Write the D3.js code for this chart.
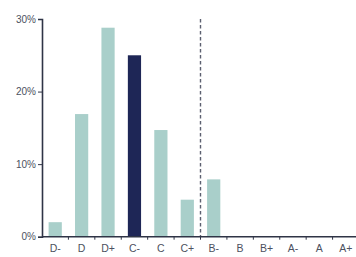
<!DOCTYPE html>
<html>
<head>
<meta charset="utf-8">
<script src="https://cdn.jsdelivr.net/npm/d3@7"></script>
<style>
  body { margin: 0; background: #fff; }
  .axis text { font-family: "Liberation Sans", Arial, sans-serif; font-size: 10.5px; fill: #4c5160; }
  .axis path, .axis line { stroke: #2f3446; }
</style>
</head>
<body>
<div id="chart"></div>
<script>
var grades = ["D-", "D", "D+", "C-", "C", "C+", "B-", "B", "B+", "A-", "A", "A+"];
var shares = [2.0, 16.9, 28.8, 25.0, 14.7, 5.1, 7.9, 0, 0, 0, 0, 0];
var highlight = "C-";
var yTicks = [0, 10, 20, 30];
var cutoffAfter = "C+";

var width = 356, height = 257;
var margin = { top: 19, right: 0, bottom: 20, left: 42 };

var svg = d3.select("#chart").append("svg")
    .attr("width", width)
    .attr("height", height);

var xScale = d3.scaleBand()
    .domain(grades)
    .range([margin.left, 359])
    .paddingInner(0.5)
    .paddingOuter(0.25);

var yScale = d3.scaleLinear()
    .domain([0, 30])
    .range([236.7, margin.top]);

var step = xScale.step();
function boundary(d) {
    return xScale(d) + xScale.bandwidth() + (step - xScale.bandwidth()) / 2;
}

// bars
svg.append("g").selectAll("rect")
    .data(grades)
    .enter().append("rect")
    .attr("x", function (d) { return xScale(d); })
    .attr("width", xScale.bandwidth())
    .attr("y", function (d, i) { return yScale(shares[i]); })
    .attr("height", function (d, i) { return yScale(0) - yScale(shares[i]); })
    .attr("fill", function (d) { return d === highlight ? "#1e2656" : "#a9cfca"; });

// dashed cutoff line between C+ and B-
var cutX = boundary(cutoffAfter);
svg.append("line")
    .attr("x1", cutX).attr("x2", cutX)
    .attr("y1", yScale(30)).attr("y2", yScale(0))
    .attr("stroke", "#5c6070")
    .attr("stroke-width", 1.4)
    .attr("stroke-dasharray", "3.5,2.5");

// x axis with ticks on band boundaries
var xAxisG = svg.append("g")
    .attr("class", "x axis")
    .attr("transform", "translate(0," + yScale(0) + ")");

xAxisG.append("line")
    .attr("x1", margin.left).attr("x2", width)
    .attr("stroke", "#2f3446").attr("stroke-width", 1.6);

xAxisG.selectAll(".bt")
    .data(grades.slice(0, grades.length - 1))
    .enter().append("line")
    .attr("x1", boundary)
    .attr("x2", boundary)
    .attr("y1", 0).attr("y2", 3)
    .attr("stroke", "#2f3446");

xAxisG.selectAll("text")
    .data(grades)
    .enter().append("text")
    .attr("x", function (d) { return xScale(d) + xScale.bandwidth() / 2; })
    .attr("y", 15.5)
    .attr("text-anchor", "middle")
    .text(function (d) { return d; });

// y axis
var yAxis = d3.axisLeft(yScale)
    .tickValues(yTicks)
    .tickSize(4)
    .tickPadding(2)
    .tickFormat(function (d) { return d + "%"; });

svg.append("g")
    .attr("class", "y axis")
    .attr("transform", "translate(" + margin.left + ",0)")
    .call(yAxis)
    .call(function (g) {
        g.select(".domain").attr("stroke-width", 1.6);
        g.selectAll("text").style("font-size", "10px");
    });
</script>
</body>
</html>
